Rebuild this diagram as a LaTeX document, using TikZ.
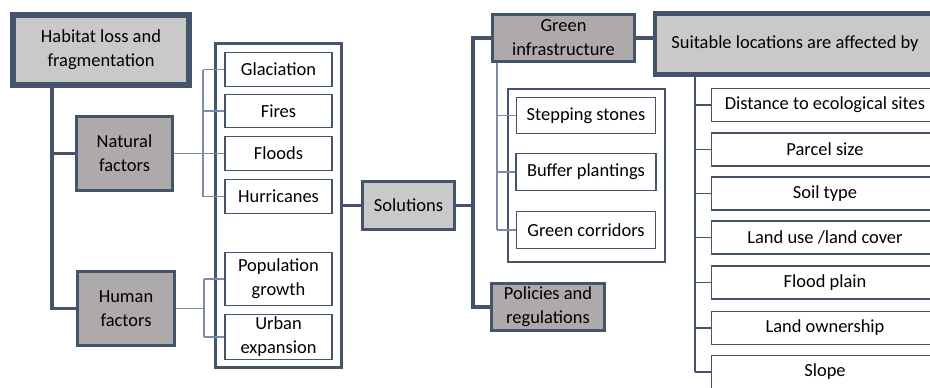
\documentclass[tikz,border=0pt]{standalone}
\usepackage{fontspec}
\setmainfont{Carlito}
\definecolor{framecolor}{RGB}{68,84,106}
\definecolor{linkcolor}{RGB}{125,140,165}
\definecolor{lightbox}{RGB}{201,201,201}
\definecolor{darkbox}{RGB}{174,170,170}
\usetikzlibrary{positioning}
\tikzset{
	topic/.style={
		rectangle,
		draw=framecolor,
		line width=3.2pt,
		fill=lightbox,
		align=center,
		inner sep=0pt
	},
	hub/.style={
		rectangle,
		draw=framecolor,
		line width=1.9pt,
		fill=lightbox,
		align=center,
		inner sep=0pt
	},
	factor/.style={
		rectangle,
		draw=framecolor,
		line width=1.7pt,
		fill=darkbox,
		align=center,
		inner sep=0pt
	},
	holder/.style={
		rectangle,
		draw=framecolor,
		line width=1.6pt,
		fill=white
	},
	item/.style={
		rectangle,
		draw=framecolor,
		line width=0.8pt,
		fill=white,
		align=center,
		inner sep=0pt
	},
	trunk/.style={
		draw=framecolor,
		line width=1.8pt
	},
	link/.style={
		draw=linkcolor,
		line width=0.6pt
	},
}

\begin{document}
\begin{tikzpicture}[x=0.02cm,y=-0.02cm,font=\fontsize{10.5}{13.6}\selectfont]
			\clip (0,0) rectangle (930,387);
			% problem and its causes
			\node[topic,minimum width=3.52cm,minimum height=1.4cm] (habitat) at (101,50) {Habitat loss and\\fragmentation};
			\node[factor,minimum width=1.92cm,minimum height=1.48cm] (natural) at (124.5,153.5) {Natural\\factors};
			\node[factor,minimum width=1.94cm,minimum height=1.48cm] (human) at (126,308.5) {Human\\factors};
			\node[holder,minimum width=2.52cm,minimum height=6.48cm] (causes) at (278.5,205.5) {};
			\node[item,minimum width=2.14cm,minimum height=0.68cm] (glaciation) at (278.5,69.5) {Glaciation};
			\node[item,minimum width=2.14cm,minimum height=0.66cm] (fires) at (278.5,111) {Fires};
			\node[item,minimum width=2.14cm,minimum height=0.68cm] (floods) at (278.5,153.5) {Floods};
			\node[item,minimum width=2.14cm,minimum height=0.68cm] (hurricanes) at (278.5,196.5) {Hurricanes};
			\node[item,minimum width=2.14cm,minimum height=1.06cm] (population) at (278.5,279) {Population\\growth};
			\node[item,minimum width=2.14cm,minimum height=0.9cm] (urban) at (278.5,337) {Urban\\expansion};
			
			% solutions
			\node[hub,minimum width=1.84cm,minimum height=0.96cm] (solutions) at (408.5,205.5) {Solutions};
			\node[factor,minimum width=2.84cm,minimum height=0.94cm] (greeninfra) at (563.5,38) {Green\\infrastructure};
			\node[factor,minimum width=2.26cm,minimum height=0.94cm] (policies) at (548,307) {Policies and\\regulations};
			\node[holder,minimum width=3.14cm,minimum height=3.46cm] (measures) at (586.5,175.5) {};
			\node[item,minimum width=2.78cm,minimum height=0.72cm] (stepping) at (586,115.5) {Stepping stones};
			\node[item,minimum width=2.8cm,minimum height=0.74cm] (buffer) at (586,172) {Buffer plantings};
			\node[item,minimum width=2.78cm,minimum height=0.74cm] (corridors) at (586,230) {Green corridors};
			
			% suitable locations
			\node[topic,line width=2.6pt,minimum width=5.6cm,minimum height=1.22cm] (suitable) at (795,44) {Suitable locations are affected by};
			\node[item,minimum width=4.54cm,minimum height=0.66cm] (distance) at (825,105) {Distance to ecological sites};
			\node[item,minimum width=4.54cm,minimum height=0.66cm] (parcel) at (825,149.5) {Parcel size};
			\node[item,minimum width=4.54cm,minimum height=0.66cm] (soil) at (825,193.5) {Soil type};
			\node[item,minimum width=4.54cm,minimum height=0.66cm] (landuse) at (825,237.5) {Land use /land cover};
			\node[item,minimum width=4.54cm,minimum height=0.66cm] (floodplain) at (825,282.5) {Flood plain};
			\node[item,minimum width=4.54cm,minimum height=0.66cm] (ownership) at (825,328) {Land ownership};
			\node[item,minimum width=4.54cm,minimum height=0.66cm] (slope) at (825,372) {Slope};
			
			\coordinate (hbus) at (52,0);
			\coordinate (nbus) at (203,0);
			\coordinate (mbus) at (204,0);
			\coordinate (sbus) at (473,205.5);
			\coordinate (gbus) at (497,0);
			\coordinate (fbus) at (695,0);
			
			\draw[trunk] (hbus |- habitat.south) |- (human.west);
			\draw[trunk] (hbus |- natural.west) -- (natural.west);
			\draw[link] (natural.east) -- (floods.west);
			\draw[link] (nbus |- glaciation.west) -- (nbus |- hurricanes.west);
			\foreach \n in {glaciation,fires,floods,hurricanes}
				\draw[link] (nbus |- \n.west) -- (\n.west);
			\draw[link] (human.east) -- (mbus |- human.east);
			\draw[link] (mbus |- population.west) -- (mbus |- urban.west);
			\foreach \n in {population,urban}
				\draw[link] (mbus |- \n.west) -- (\n.west);
			
			\draw[trunk] (causes.east) -- (solutions.west);
			\draw[trunk] (solutions.east) -- (sbus);
			\draw[trunk] (greeninfra.west) -| (sbus) |- (policies.west);
			\draw[link] (gbus |- greeninfra.south) -- (gbus |- corridors.west);
			\foreach \n in {stepping,buffer,corridors}
				\draw[link] (gbus |- \n.west) -- (\n.west);
			\draw[trunk] (greeninfra.east) -- (suitable.west |- greeninfra.east);
			
			\draw[trunk,line width=1pt] (fbus |- suitable.south) -- (fbus |- slope.west);
			\foreach \n in {distance,parcel,soil,landuse,floodplain,ownership,slope}
				\draw[trunk,line width=1pt] (fbus |- \n.west) -- (\n.west);
			%\draw[link] (causes.north) -- (causes.south);
			\end{tikzpicture}
\end{document}
